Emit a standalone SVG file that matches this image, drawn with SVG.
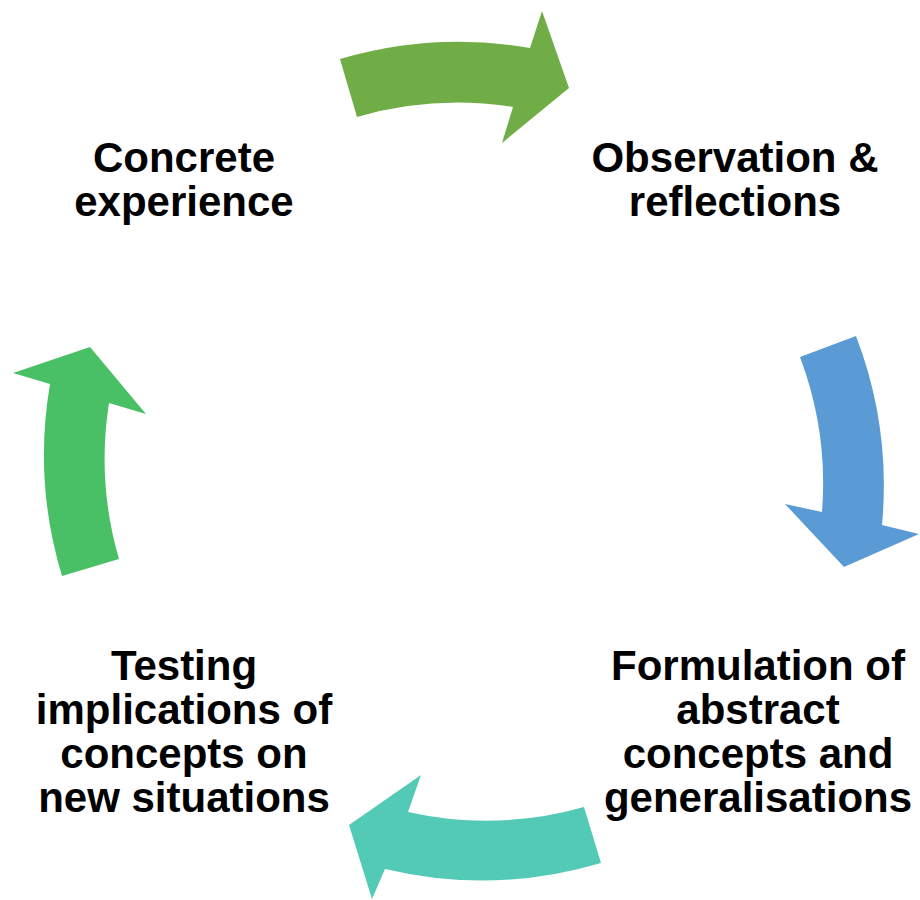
<svg xmlns="http://www.w3.org/2000/svg" width="920" height="900" viewBox="0 0 920 900">
  <style>
    .label { font-family: "Liberation Sans", Arial, sans-serif; font-weight: bold; font-size: 42px; fill: #000000; text-anchor: middle; }
    .arrow { stroke: none; }
  </style>
  <rect width="920" height="900" fill="#ffffff"/>

  <!-- curved cycle arrows -->
  <g id="connectors">
    <path class="arrow" fill="#70AD47" d="M340,59 A419,419 0 0 1 530,48 L542,11 L569,88 L502,143 L513,107 A359,359 0 0 0 357,117 Z"/>
    <path class="arrow" fill="#5B9BD5" d="M856,336 A419,419 0 0 1 882,525 L919,534 L844,567 L785,504 L822,512 A359,359 0 0 0 800,357 Z"/>
    <path class="arrow" fill="#53CAB6" d="M601,863 A419,419 0 0 1 385,869 L372,899 L349,825 L421,775 L408,812 A359,359 0 0 0 584,807 Z"/>
    <path class="arrow" fill="#4AC066" d="M62,576 A419,419 0 0 1 50,384 L13,373 L90,347 L146,414 L109,403 A359,359 0 0 0 119,559 Z"/>
  </g>

  <g id="concrete-experience">
    <text class="label" x="184" y="172">Concrete</text>
    <text class="label" x="184" y="216">experience</text>
  </g>

  <g id="observation-reflections">
    <text class="label" x="735" y="172">Observation &amp;</text>
    <text class="label" x="735" y="216">reflections</text>
  </g>

  <g id="abstract-concepts">
    <text class="label" x="758" y="680">Formulation of</text>
    <text class="label" x="758" y="724">abstract</text>
    <text class="label" x="758" y="768">concepts and</text>
    <text class="label" x="758" y="812">generalisations</text>
  </g>

  <g id="testing-implications">
    <text class="label" x="184" y="680">Testing</text>
    <text class="label" x="184" y="724">implications of</text>
    <text class="label" x="184" y="768">concepts on</text>
    <text class="label" x="184" y="812">new situations</text>
  </g>
</svg>
